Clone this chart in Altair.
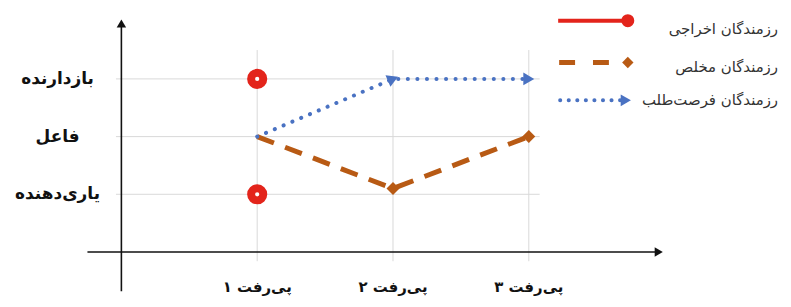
import math
import altair as alt
import pandas as pd

# ---------------- data ----------------
steps = ["پی‌رفت ۱", "پی‌رفت ۲", "پی‌رفت ۳"]
step_pos = [1, 2, 3]
roles = ["یاری‌دهنده", "فاعل", "بازدارنده"]
role_pos = [1, 2, 3]

series_names = ["رزمندگان اخراجی", "رزمندگان مخلص", "رزمندگان فرصت‌طلب"]
expelled_x = [1, 1]
expelled_y = [3, 1]
sincere_x = [1, 2, 3]
sincere_y = [2, 1.1, 2]
opport_x = [1, 2, 3]
opport_y = [2, 3, 3]

# ---------------- style ----------------
RED = "#E3241B"
BROWN = "#B85A14"
BLUE = "#4A72C2"
GRID = "#D9D9D9"
FONT = "DejaVu Sans"

W, H = 779, 291
XD = [-0.835, 4.872]
YD = [-0.802, 4.216]
PX_X = W / (XD[1] - XD[0])
PX_Y = H / (YD[1] - YD[0])

xs = alt.Scale(domain=XD, nice=False, zero=False)
ys = alt.Scale(domain=YD, nice=False, zero=False)


def X(f):
    return alt.X(f, type="quantitative", scale=xs, axis=None)


def Y(f):
    return alt.Y(f, type="quantitative", scale=ys, axis=None)


# gridlines
hgrid = pd.DataFrame({"y": role_pos, "x0": -0.04, "x1": 3.08})
vgrid = pd.DataFrame({"x": step_pos, "y0": -0.16, "y1": 3.5})
grid_h = alt.Chart(hgrid).mark_rule(color=GRID, strokeWidth=1).encode(
    x=X("x0"), x2="x1", y=Y("y"))
grid_v = alt.Chart(vgrid).mark_rule(color=GRID, strokeWidth=1).encode(
    x=X("x"), y=Y("y0"), y2="y1")

# axes with arrowheads
xaxis_df = pd.DataFrame({"x0": [-0.25], "x1": [3.957], "y": [0]})
yaxis_df = pd.DataFrame({"x": [0], "y0": [-0.68], "y1": [3.96]})
xaxis = alt.Chart(xaxis_df).mark_rule(color="#111", strokeWidth=1.6).encode(
    x=X("x0"), x2="x1", y=Y("y"))
yaxis = alt.Chart(yaxis_df).mark_rule(color="#111", strokeWidth=1.6).encode(
    x=X("x"), y=Y("y0"), y2="y1")
xarrow = alt.Chart(xaxis_df).mark_point(shape="triangle-right", filled=True, color="#111",
                                        size=90, opacity=1).encode(x=X("x1"), y=Y("y"))
yarrow = alt.Chart(yaxis_df).mark_point(shape="triangle-up", filled=True, color="#111",
                                        size=90, opacity=1).encode(x=X("x"), y=Y("y1"))

# series
sincere_df = pd.DataFrame({"x": sincere_x, "y": sincere_y, "o": range(len(sincere_x))})
opport_df = pd.DataFrame({"x": opport_x, "y": opport_y, "o": range(len(opport_x))})
expelled_df = pd.DataFrame({"x": expelled_x, "y": expelled_y})

ang = [0.0]
for i in range(1, len(opport_x)):
    dx = (opport_x[i] - opport_x[i - 1]) * PX_X
    dy = (opport_y[i] - opport_y[i - 1]) * PX_Y
    ang.append(math.degrees(math.atan2(-dy, dx)) % 360)
opport_df["angle"] = ang

sincere_line = alt.Chart(sincere_df).mark_line(
    color=BROWN, strokeWidth=5, strokeDash=[18, 12]).encode(
    x=X("x"), y=Y("y"), order="o:Q")
sincere_pts = alt.Chart(sincere_df.iloc[1:]).mark_point(
    shape="diamond", filled=True, color=BROWN, size=170, opacity=1).encode(x=X("x"), y=Y("y"))

opport_line = alt.Chart(opport_df).mark_line(
    color=BLUE, strokeWidth=4, strokeDash=[0.1, 9.5], strokeCap="round").encode(
    x=X("x"), y=Y("y"), order="o:Q")
opport_pts = alt.Chart(opport_df.iloc[1:]).mark_point(
    shape="triangle-right", filled=True, color=BLUE, size=160, opacity=1).encode(
    x=X("x"), y=Y("y"), angle=alt.Angle("angle:Q", scale=None))

expelled_pts = alt.Chart(expelled_df).mark_point(
    shape="circle", filled=True, fill="white", stroke=RED, strokeWidth=8,
    size=150, opacity=1).encode(x=X("x"), y=Y("y"))

# tick labels
ylab_df = pd.DataFrame({"t": roles, "y": role_pos, "x": -0.47})
xlab_df = pd.DataFrame({"t": steps, "x": step_pos, "y": -0.70})
ylab = alt.Chart(ylab_df).mark_text(font=FONT, fontSize=17, fontWeight="bold",
                                    color="#111", align="center", baseline="middle").encode(
    x=X("x"), y=Y("y"), text="t:N")
xlab = alt.Chart(xlab_df).mark_text(font=FONT, fontSize=15, fontWeight="bold",
                                    color="#111", align="center", baseline="alphabetic").encode(
    x=X("x"), y=Y("y"), text="t:N")

# legend (pixel positions)
one = pd.DataFrame({"a": [0]})
LX0, LX1, LTX = 553, 622, 774
rows_y = [12, 54, 92]
text_y = [20, 59, 92]
leg = []
leg.append(alt.Chart(one).mark_rule(color=RED, strokeWidth=4).encode(
    x=alt.value(LX0), x2=alt.value(LX1), y=alt.value(rows_y[0])))
leg.append(alt.Chart(one).mark_point(shape="circle", filled=True, color=RED, size=170, opacity=1).encode(
    x=alt.value(LX1 + 1), y=alt.value(rows_y[0])))
leg.append(alt.Chart(one).mark_rule(color=BROWN, strokeWidth=5, strokeDash=[16, 18]).encode(
    x=alt.value(LX0 + 1), x2=alt.value(LX1), y=alt.value(rows_y[1])))
leg.append(alt.Chart(one).mark_point(shape="diamond", filled=True, color=BROWN, size=130, opacity=1).encode(
    x=alt.value(LX1 + 1), y=alt.value(rows_y[1])))
leg.append(alt.Chart(one).mark_rule(color=BLUE, strokeWidth=4, strokeDash=[0.1, 8.5], strokeCap="round").encode(
    x=alt.value(LX0 + 2), x2=alt.value(LX1 - 6), y=alt.value(rows_y[2])))
leg.append(alt.Chart(one).mark_point(shape="triangle-right", filled=True, color=BLUE, size=140, opacity=1).encode(
    x=alt.value(LX1 - 1), y=alt.value(rows_y[2])))
for name, ty in zip(series_names, text_y):
    leg.append(alt.Chart(one).mark_text(font=FONT, fontSize=15, color="#333",
                                        align="right", baseline="middle").encode(
        x=alt.value(LTX), y=alt.value(ty), text=alt.value(name)))

chart = alt.layer(
    grid_h, grid_v, xaxis, yaxis, xarrow, yarrow,
    sincere_line, opport_line, sincere_pts, opport_pts, expelled_pts,
    ylab, xlab, *leg
).properties(
    width=W, height=H, padding=0,
    autosize=alt.AutoSizeParams(type="none"),
    background="white",
).configure_view(stroke=None)

chart.save("out.html", embed_options={"renderer": "svg", "actions": False})
